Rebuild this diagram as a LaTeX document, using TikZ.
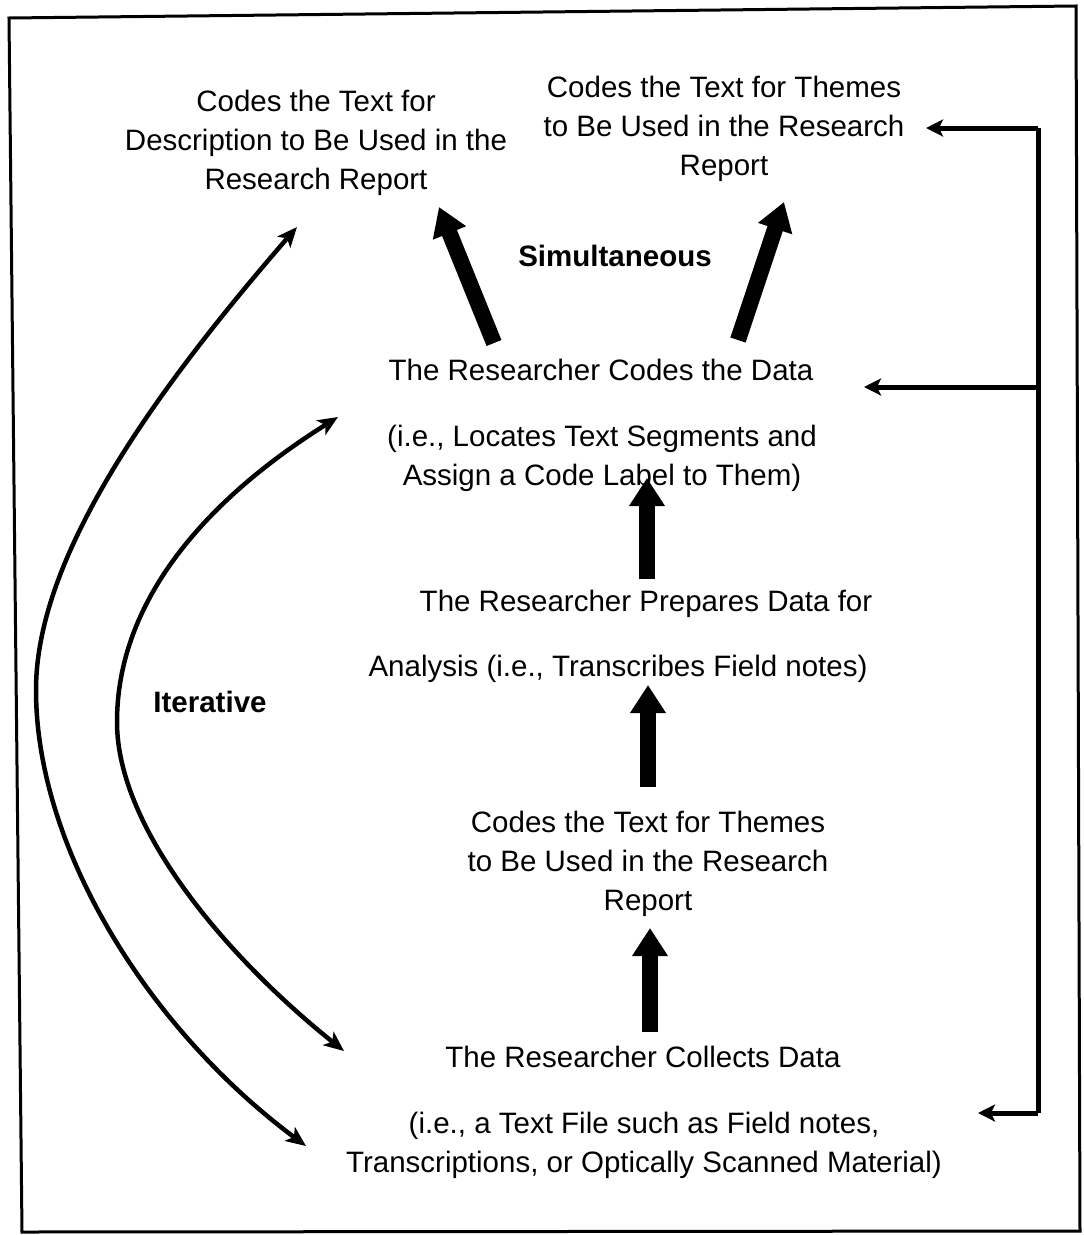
\documentclass[tikz,border=0pt]{standalone}
\usepackage{fontspec}
\setmainfont{Liberation Sans}
\usetikzlibrary{arrows.meta}
\begin{document}
\begin{tikzpicture}[x=1pt,y=-1pt,
  txt/.style={font=\fontsize{29.5}{39}\selectfont, align=center, inner sep=0pt},
  btxt/.style={font=\fontsize{29.5}{39}\selectfont\bfseries, inner sep=0pt},
  bigarrow/.style={line width=16pt, -{Triangle[length=28pt,width=34pt]}},
  iterarrow/.style={line width=4.5pt, {Stealth[length=20pt,width=17pt,inset=5pt]}-{Stealth[length=20pt,width=17pt,inset=5pt]}},
  feedline/.style={line width=5pt},
  feedarrow/.style={line width=5pt, -{Stealth[length=17pt,width=17pt,inset=4pt]}}
]
\useasboundingbox (0,0) rectangle (1084,1235);
% frame
\draw[line width=3pt, line join=miter] (9,18) -- (1076,6) -- (1080,1231) -- (22,1232) -- cycle;

% text nodes
\node[txt] (desc) at (316,143) {Codes the Text for\\Description to Be Used in the\\Research Report};
\node[txt] (themesTop) at (724,129) {Codes the Text for Themes\\to Be Used in the Research\\Report};
\node[btxt] (simul) at (615,256) {Simultaneous};
\node[txt] (codes) at (601,370) {The Researcher Codes the Data};
\node[txt] (codesnote) at (602,458) {(i.e., Locates Text Segments and\\Assign a Code Label to Them)};
\node[txt] (prepares) at (646,604) {The Researcher Prepares Data for};
\node[txt] (analysis) at (618,669) {Analysis (i.e., Transcribes Field notes)};
\node[txt] (themesMid) at (648,864) {Codes the Text for Themes\\to Be Used in the Research\\Report};
\node[txt] (collects) at (643,1057) {The Researcher Collects Data};
\node[txt] (collectsnote) at (644,1145) {(i.e., a Text File such as Field notes,\\Transcriptions, or Optically Scanned Material)};
\node[btxt] (iter) at (210,702) {Iterative};

% coordinates for connector ends
\coordinate (c1s) at (494,343); \coordinate (c1e) at (439,207);
\coordinate (c2s) at (738,340); \coordinate (c2e) at (784,202);
\coordinate (v1s) at (647,579); \coordinate (v1e) at (647,478);
\coordinate (v2s) at (648,787); \coordinate (v2e) at (648,685);
\coordinate (v3s) at (650,1032); \coordinate (v3e) at (650,928);
\coordinate (fTop) at (1038,128); \coordinate (fMid) at (1038,387); \coordinate (fBot) at (1038,1113);
\coordinate (tTop) at (926,128); \coordinate (tMid) at (864,387); \coordinate (tBot) at (978,1113);
\coordinate (oTop) at (297,227); \coordinate (oLeft) at (36,690); \coordinate (oBot) at (306,1146);
\coordinate (iTop) at (338,417); \coordinate (iLeft) at (117,722); \coordinate (iBot) at (344,1051);

% simultaneous arrows
\draw[bigarrow] (c1s) -- (c1e);
\draw[bigarrow] (c2s) -- (c2e);
% upward process arrows
\draw[bigarrow] (v1s) -- (v1e);
\draw[bigarrow] (v2s) -- (v2e);
\draw[bigarrow] (v3s) -- (v3e);

% feedback bracket
\draw[feedline, line cap=butt] (fTop) -- (fBot);
\draw[feedarrow] (fTop) -- (tTop);
\draw[feedarrow] (fMid) -- (tMid);
\draw[feedarrow] (fBot) -- (tBot);

% iterative curves
\draw[iterarrow] (oTop) .. controls (147,400) and (36,560) .. (oLeft)
                        .. controls (36,850) and (150,1030) .. (oBot);
\draw[iterarrow] (iTop) .. controls (207,499) and (117,600) .. (iLeft)
                        .. controls (117,830) and (230,960) .. (iBot);
\end{tikzpicture}
\end{document}
